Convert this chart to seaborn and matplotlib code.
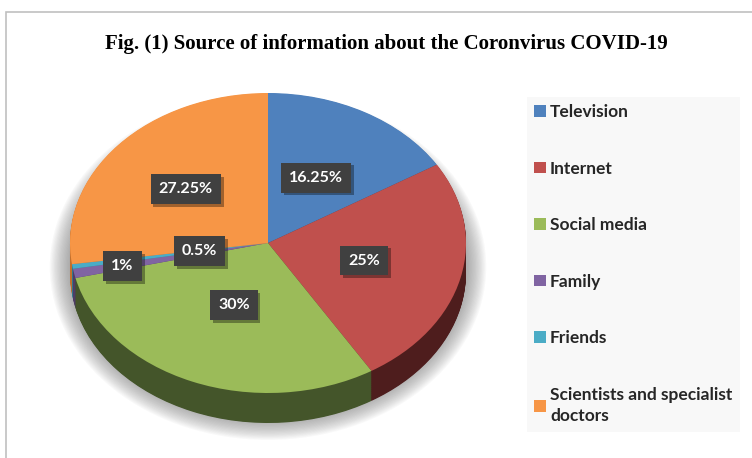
import numpy as np
import matplotlib
matplotlib.use("Agg")
import matplotlib.pyplot as plt
import matplotlib.patheffects as pe
import seaborn as sns
from matplotlib.patches import Ellipse, Rectangle, Patch

# ---- data ----
categories = ["Television", "Internet", "Social media", "Family", "Friends",
              "Scientists and specialist\ndoctors"]
shares = [16.25, 25, 30, 1, 0.5, 27.25]
pct_labels = ["16.25%", "25%", "30%", "1%", "0.5%", "27.25%"]
title = "Fig. (1) Source of information about the Coronvirus COVID-19"

sns.set_theme(style="white")
plt.rcParams['font.family'] = ['Lato', 'DejaVu Sans']

top_colors = sns.color_palette(["#4F81BD", "#C0504D", "#9BBB59", "#8064A2", "#4BACC6", "#F79646"])
side_colors = sns.color_palette(["#2E4D73", "#4E1D1D", "#44552A", "#4F3D66", "#2F7A8C", "#C26F2C"])

W, H = 752, 458
fig = plt.figure(figsize=(W / 100, H / 100), dpi=100)
fig.patch.set_facecolor("white")
ax = fig.add_axes([0, 0, 1, 1])
cx, cy, rx, ry = 268, 243, 198, 150  # pixel geometry of the top face
depth = 0.2

# soft shadow
for i in range(18):
    e = 0.006 * i
    ax.add_patch(Ellipse((0, -0.16), 2 * (1.0 + e), 2 * (1.02 + e * 1.3),
                         facecolor="#707070", edgecolor="none", alpha=0.045, zorder=0))

# 3D side
for k in np.linspace(depth, 0.004, 45):
    ax.pie(shares, colors=side_colors, startangle=90, counterclock=False,
           center=(0, -k), wedgeprops=dict(linewidth=0))

# top face
wedges, _ = ax.pie(shares, colors=top_colors, startangle=90, counterclock=False,
                   center=(0, 0), wedgeprops=dict(linewidth=0))

label_dist = [0.5, 0.5, 0.45, 0.75, 0.35, 0.55]
for w, s, d in zip(wedges, pct_labels, label_dist):
    mid = np.deg2rad((w.theta1 + w.theta2) / 2)
    x, y = d * np.cos(mid), d * np.sin(mid)
    t = ax.text(x, y, s, ha="center", va="center", color="white", fontsize=11.5,
                fontweight="bold", zorder=10,
                bbox=dict(boxstyle="square,pad=0.5", fc="#404040", ec="none"))
    t.get_bbox_patch().set_path_effects(
        [pe.SimplePatchShadow(offset=(2, -2), shadow_rgbFace="black", alpha=0.35), pe.Normal()])

ax.set_aspect("auto")
ax.set_xlim(-cx / rx, (W - cx) / rx)
ax.set_ylim(-(H - cy) / ry, cy / ry)
ax.axis("off")

# outer border
fig.patches.append(Rectangle((6 / W, -0.1), 1.0, 1 - 12 / H + 0.1, transform=fig.transFigure,
                             fill=False, edgecolor="#C0C0C0", linewidth=1.2))

fig.text(386 / W, 1 - 44 / H, title, ha="center", va="center",
         fontfamily="Liberation Serif", fontweight="bold", fontsize=15, color="black")

handles = [Patch(facecolor=c, edgecolor="none") for c in top_colors]
leg = fig.legend(handles, categories, loc="upper left", bbox_to_anchor=(527 / W, 1 - 97 / H),
                 frameon=True, fancybox=False, facecolor="#F8F8F8", edgecolor="none",
                 framealpha=1, handlelength=0.65, handleheight=0.65, handletextpad=0.25,
                 labelspacing=2.33, borderpad=0.42, borderaxespad=0,
                 prop=dict(family="Lato", weight="bold", size=12.5))
leg.get_texts()[-1].set_linespacing(1.45)

fig.savefig("out.png", dpi=100, facecolor="white")
